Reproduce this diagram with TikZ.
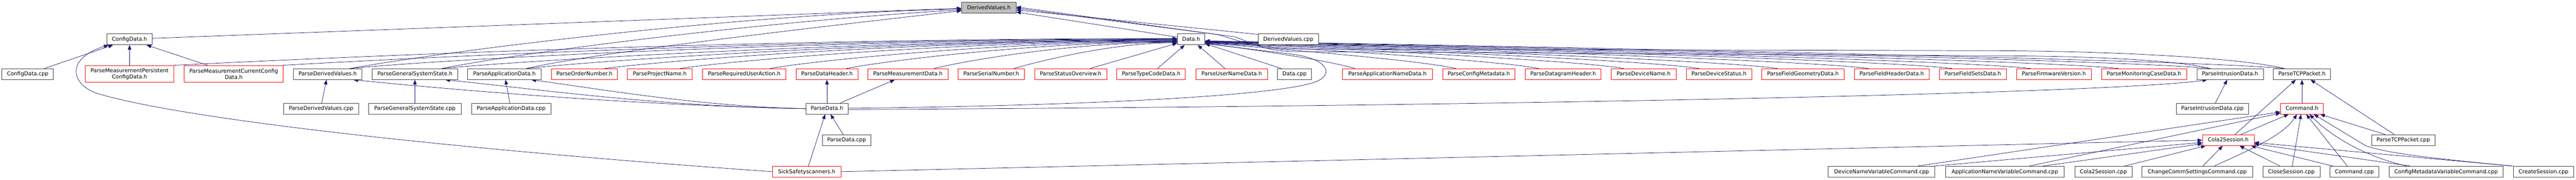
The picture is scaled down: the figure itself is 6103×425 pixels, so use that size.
\documentclass[tikz,border=0pt]{standalone}
\usepackage{fontspec}
\setmainfont{DejaVu Sans}
\usetikzlibrary{arrows.meta,backgrounds}
\definecolor{mblue}{HTML}{191970}
\definecolor{nodeborder}{HTML}{404040}
\newcommand\nodefont{\fontsize{12.7pt}{15pt}\selectfont}
\begin{document}
\begin{tikzpicture}[x=1pt,y=-1pt,
  nb/.style={draw=nodeborder, fill=white, line width=1pt, inner sep=0pt, minimum height=25.7pt, text height=10.3pt, text depth=2.5pt, font=\nodefont},
  nr/.style={nb, draw=red},
  nr2/.style={draw=red, fill=white, line width=1pt, inner sep=0pt, minimum height=40pt, align=center, font=\nodefont},
  dep/.style={draw=mblue, line width=0.9pt, -{Triangle[length=11pt,width=8.5pt]}}]
\useasboundingbox (0,0) rectangle (6103,425);
% row 0
\node[nb, fill=gray!50, minimum width=128.6pt] (dv) at (2342.7,18.5) {DerivedValues.h};
% row 1
\node[nb, minimum width=107pt] (cfg) at (307,93.2) {ConfigData.h};
\node[nb, minimum width=65pt] (data) at (2822,93.2) {Data.h};
\node[nb, minimum width=143pt] (dvcpp) at (3052.3,93.2) {DerivedValues.cpp};
% row 2
\node[nb, minimum width=122pt] (cfgcpp) at (65.6,175.5) {ConfigData.cpp};
\node[nr2, minimum width=210.7pt] (pmpc) at (307,175) {ParseMeasurementPersistent\\ConfigData.h};
\node[nr2, minimum width=234.7pt] (pmcc) at (553.8,175) {ParseMeasurementCurrentConfig\\Data.h};
\node[nb, minimum width=163pt] (pdv) at (776.3,175.5) {ParseDerivedValues.h};
\node[nb, minimum width=203pt] (pgss) at (983,175.5) {ParseGeneralSystemState.h};
\node[nb, minimum width=173.7pt] (pad) at (1195,175.5) {ParseApplicationData.h};
\node[nr, minimum width=156.5pt] (pon) at (1384.6,175.5) {ParseOrderNumber.h};
\node[nr, minimum width=153.4pt] (ppn) at (1563,175.5) {ParseProjectName.h};
\node[nr, minimum width=198pt] (prua) at (1763.2,175.5) {ParseRequiredUserAction.h};
\node[nr, minimum width=146.7pt] (pdh) at (1959.2,175.5) {ParseDataHeader.h};
\node[nr, minimum width=189.8pt] (pmd) at (2151.1,175.5) {ParseMeasurementData.h};
\node[nr, minimum width=157.6pt] (psn) at (2348.5,175.5) {ParseSerialNumber.h};
\node[nr, minimum width=170.8pt] (pso) at (2536.4,175.5) {ParseStatusOverview.h};
\node[nr, minimum width=162.5pt] (ptc) at (2727.2,175.5) {ParseTypeCodeData.h};
\node[nr, minimum width=169.2pt] (pun) at (2918,175.5) {ParseUserNameData.h};
\node[nb, minimum width=80.3pt] (datacpp) at (3067,175.5) {Data.cpp};
\node[nr, minimum width=212.7pt] (pand) at (3287,175.5) {ParseApplicationNameData.h};
\node[nr, minimum width=170.8pt] (pcm) at (3503.3,175.5) {ParseConfigMetadata.h};
\node[nr, minimum width=180.3pt] (pdgh) at (3703.2,175.5) {ParseDatagramHeader.h};
\node[nr, minimum width=153.5pt] (pdn) at (3893.8,175.5) {ParseDeviceName.h};
\node[nr, minimum width=155pt] (pds) at (4072.5,175.5) {ParseDeviceStatus.h};
\node[nr, minimum width=195pt] (pfg) at (4271.3,175.5) {ParseFieldGeometryData.h};
\node[nr, minimum width=177.5pt] (pfh) at (4481.8,175.5) {ParseFieldHeaderData.h};
\node[nr, minimum width=158.6pt] (pfs) at (4673.9,175.5) {ParseFieldSetsData.h};
\node[nr, minimum width=177.2pt] (pfv) at (4865.9,175.5) {ParseFirmwareVersion.h};
\node[nr, minimum width=201.2pt] (pmc) at (5079.5,175.5) {ParseMonitoringCaseData.h};
\node[nb, minimum width=157.5pt] (pid) at (5283.3,175.5) {ParseIntrusionData.h};
\node[nb, minimum width=135.6pt] (ptcp) at (5453.8,175.5) {ParseTCPPacket.h};
% row 3
\node[nb, minimum width=178.7pt] (pdvcpp) at (760.6,257.2) {ParseDerivedValues.cpp};
\node[nb, minimum width=218.7pt] (pgsscpp) at (983,257.2) {ParseGeneralSystemState.cpp};
\node[nb, minimum width=188.4pt] (padcpp) at (1211,257.2) {ParseApplicationData.cpp};
\node[nb, minimum width=100pt] (pdata) at (1959.2,257.2) {ParseData.h};
\node[nb, minimum width=171.7pt] (pidcpp) at (5241.6,257.2) {ParseIntrusionData.cpp};
\node[nr, minimum width=101pt] (cmdh) at (5453.8,257.2) {Command.h};
% row 4
\node[nb, minimum width=114.7pt] (pdatacpp) at (2005.7,331.7) {ParseData.cpp};
\node[nr, minimum width=122pt] (cola) at (5279,331.7) {Cola2Session.h};
\node[nb, minimum width=150.5pt] (ptcpcpp) at (5693.7,331.7) {ParseTCPPacket.cpp};
% row 5
\node[nr, minimum width=161.8pt] (sick) at (1911.3,406.3) {SickSafetyscanners.h};
\node[nb, minimum width=253pt] (dnv) at (4457.8,406.3) {DeviceNameVariableCommand.cpp};
\node[nb, minimum width=281.3pt] (anv) at (4749.9,406.3) {ApplicationNameVariableCommand.cpp};
\node[nb, minimum width=136pt] (colacpp) at (4983.3,406.3) {Cola2Session.cpp};
\node[nb, minimum width=261.8pt] (ccs) at (5205.8,406.3) {ChangeCommSettingsCommand.cpp};
\node[nb, minimum width=135pt] (closecpp) at (5428.7,406.3) {CloseSession.cpp};
\node[nb, minimum width=116pt] (cmdcpp) at (5577.9,406.3) {Command.cpp};
\node[nb, minimum width=270.6pt] (cmvc) at (5795.2,406.3) {ConfigMetadataVariableCommand.cpp};
\node[nb, minimum width=143pt] (csc) at (6026,406.3) {CreateSession.cpp};

\begin{pgfonlayer}{background}
\fill[white] (0,0) rectangle (6103,425);
% ---- into DerivedValues.h
\draw[dep] ([yshift=2.5pt]cfg.east) -- ([yshift=-1pt]dv.west);
\draw[dep] ([xshift=53pt]pdv.north) .. controls +(250,-45) and +(-500,10) .. ([yshift=-3pt]dv.west);
\draw[dep] ([xshift=64pt]pgss.north) .. controls +(200,-40) and +(-450,25) .. ([yshift=-5pt]dv.west);
\draw[dep] ([xshift=52pt]pad.north) .. controls +(150,-35) and +(-400,45) .. ([yshift=-7pt]dv.west);
\draw[dep] ([yshift=-8pt]data.north west) -- ([yshift=-10pt]dv.east);
\draw[dep] ([yshift=-1.5pt]dvcpp.north west) -- ([yshift=-5pt]dv.east);
\draw[dep] ([xshift=-42pt]ptcp.north) .. controls +(-100,-25) and +(300,0) .. (4700,120) -- (3060,116) .. controls +(-80,-2) and +(40,12) .. (2886,82) -- ([yshift=2pt]dv.east);
\draw[dep] ([xshift=-47pt]pid.north) .. controls +(-80,-20) and +(250,0) .. (4700,132) -- (3060,122) .. controls +(-70,-3) and +(40,14) .. (2925,87) -- ([yshift=-1pt]dv.east);
% ---- into ConfigData.h
\draw[dep] ([xshift=39pt]cfgcpp.north) -- (cfg);
\draw[dep] (pmpc) -- (cfg);
\draw[dep] ([xshift=-62pt]pmcc.north) -- (cfg);
\draw[dep] (sick.west) .. controls (1100,355) and (450,285) .. (237,223) .. controls (170,205) and (150,140) .. ([xshift=4pt]cfg.south west);
% ---- into Data.h from the left
\draw[dep] (pmpc.north east) .. controls +(400,-20) and +(-1000,0) .. ([yshift=2pt]data.west);
\draw[dep] ([xshift=-1pt]pmcc.north east) .. controls +(350,-20) and +(-900,0) .. ([yshift=1pt]data.west);
\draw[dep] ([xshift=53pt]pdv.north) .. controls +(250,-25) and +(-800,0) .. (data.west);
\draw[dep] ([xshift=64pt]pgss.north) .. controls +(200,-20) and +(-700,0) .. ([yshift=-1pt]data.west);
\draw[dep] ([xshift=52pt]pad.north) .. controls +(180,-20) and +(-650,0) .. ([yshift=-2pt]data.west);
\draw[dep] ([xshift=48pt]pon.north) .. controls +(150,-20) and +(-600,0) .. ([yshift=-3pt]data.west);
\draw[dep] ([xshift=48pt]ppn.north) .. controls +(130,-20) and +(-500,0) .. ([yshift=-4pt]data.west);
\draw[dep] ([xshift=61pt]prua.north) .. controls +(110,-20) and +(-400,0) .. ([yshift=-5pt]data.west);
\draw[dep] ([xshift=46pt]pdh.north) .. controls +(90,-18) and +(-330,0) .. ([yshift=-6pt]data.west);
\draw[dep] ([xshift=62pt]pmd.north) .. controls +(70,-18) and +(-250,0) .. ([yshift=-7pt]data.west);
\draw[dep] ([xshift=54pt]psn.north) .. controls +(60,-18) and +(-150,0) .. ([yshift=-8pt]data.west);
\draw[dep] ([xshift=46pt]pso.north) -- ([yshift=-9pt]data.west);
\draw[dep] ([xshift=15pt]ptc.north) -- (data);
\draw[dep] ([xshift=-16pt]pun.north) -- (data);
% ---- into Data.h from the right
\draw[dep] ([xshift=-31pt]datacpp.north) -- ([yshift=-10pt]data.east);
\draw[dep] ([xshift=-77pt]pand.north) .. controls +(-60,-18) and +(150,20) .. ([yshift=-9pt]data.east);
\draw[dep] ([xshift=-54pt]pcm.north) .. controls +(-80,-18) and +(250,20) .. ([yshift=-8.5pt]data.east);
\draw[dep] ([xshift=-58pt]pdgh.north) .. controls +(-90,-18) and +(330,20) .. ([yshift=-8pt]data.east);
\draw[dep] ([xshift=-47pt]pdn.north) .. controls +(-100,-18) and +(420,20) .. ([yshift=-7.5pt]data.east);
\draw[dep] ([xshift=-47pt]pds.north) .. controls +(-110,-18) and +(500,20) .. ([yshift=-7pt]data.east);
\draw[dep] ([xshift=-60pt]pfg.north) .. controls +(-120,-18) and +(580,20) .. ([yshift=-6.5pt]data.east);
\draw[dep] ([xshift=-55pt]pfh.north) .. controls +(-130,-18) and +(680,20) .. ([yshift=-6pt]data.east);
\draw[dep] ([xshift=-49pt]pfs.north) .. controls +(-140,-18) and +(780,20) .. ([yshift=-5.5pt]data.east);
\draw[dep] ([xshift=-55pt]pfv.north) .. controls +(-150,-18) and +(850,20) .. ([yshift=-5pt]data.east);
\draw[dep] ([xshift=-60pt]pmc.north) .. controls +(-160,-18) and +(950,20) .. ([yshift=-4.5pt]data.east);
\draw[dep] ([xshift=-47pt]pid.north) .. controls +(-170,-18) and +(1050,20) .. ([yshift=-4pt]data.east);
\draw[dep] ([xshift=-42pt]ptcp.north) .. controls +(-180,-18) and +(1150,20) .. ([yshift=-3.5pt]data.east);
\draw[dep] ([yshift=1pt]pdata.east) .. controls (2600,250) and (3060,225) .. (3125,190) .. controls (3160,171) and (3140,138) .. (3060,128) -- ([yshift=-10pt]data.east);
% ---- ParseData.h
\draw[dep] (pdata.west) .. controls +(-400,-8) and +(250,25) .. ([xshift=61pt]pdv.south);
\draw[dep] (pdata.west) .. controls +(-350,-5) and +(200,20) .. ([xshift=72pt]pgss.south);
\draw[dep] (pdata.west) .. controls +(-250,-5) and +(150,20) .. ([xshift=64pt]pad.south);
\draw[dep] (pdata.north) -- (pdh.south);
\draw[dep] ([xshift=31pt]pdata.north) -- (pmd);
\draw[dep] ([yshift=-2pt]pdata.east) .. controls (3500,252) and (5000,222) .. ([xshift=-54pt]pid.south);
\draw[dep] ([xshift=-8pt]pdatacpp.north) -- (pdata);
\draw[dep] ([xshift=4pt]sick.north) -- (pdata);
\draw[dep] (sick.east) -- (cola.west);
% ---- .cpp to headers
\draw[dep] ([xshift=1.5pt]pdvcpp.north) -- (pdv);
\draw[dep] (pgsscpp) -- (pgss);
\draw[dep] ([xshift=-3pt]padcpp.north) -- (pad);
\draw[dep] ([xshift=7pt]pidcpp.north) -- (pid);
% ---- Command / Cola2Session area
\draw[dep] (cmdh) -- (ptcp);
\draw[dep] ([xshift=16pt]cola.north) -- (ptcp);
\draw[dep] ([xshift=30pt]cola.north) -- (cmdh);
\draw[dep] ([xshift=-21pt]ptcpcpp.north) -- (ptcp);
\draw[dep] ([xshift=-42pt]ptcpcpp.north) -- (cmdh);
\draw[dep] ([xshift=86pt]dnv.north) -- (cmdh);
\draw[dep] ([xshift=-2pt]dnv.north east) -- (cola);
\draw[dep] ([xshift=58pt]anv.north) -- (cmdh);
\draw[dep] ([xshift=90pt]anv.north) -- (cola);
\draw[dep] ([xshift=50pt]colacpp.north) -- (cola);
\draw[dep] ([xshift=13pt]ccs.north) -- (cola);
\draw[dep] ([xshift=40pt]ccs.north) .. controls (5330,355) and (5410,320) .. ([xshift=-12pt]cmdh.south);
\draw[dep] ([xshift=-27pt]closecpp.north) -- (cola);
\draw[dep] ([xshift=2pt]closecpp.north) -- (cmdh);
\draw[dep] ([xshift=-51pt]cmdcpp.north) -- (cola);
\draw[dep] ([xshift=-17pt]cmdcpp.north) -- ([xshift=10pt]cmdh.south);
\draw[dep] ([xshift=-85pt]cmvc.north) -- (cola);
\draw[dep] ([xshift=-93pt]cmvc.north) .. controls (5600,370) and (5520,320) .. ([xshift=18pt]cmdh.south);
\draw[dep] (csc.north west) -- (cola);
\draw[dep] ([xshift=-3pt]csc.north west) .. controls (5800,378) and (5660,365) .. (5605,345) -- ([xshift=28pt]cmdh.south);
\end{pgfonlayer}
\end{tikzpicture}
\end{document}
